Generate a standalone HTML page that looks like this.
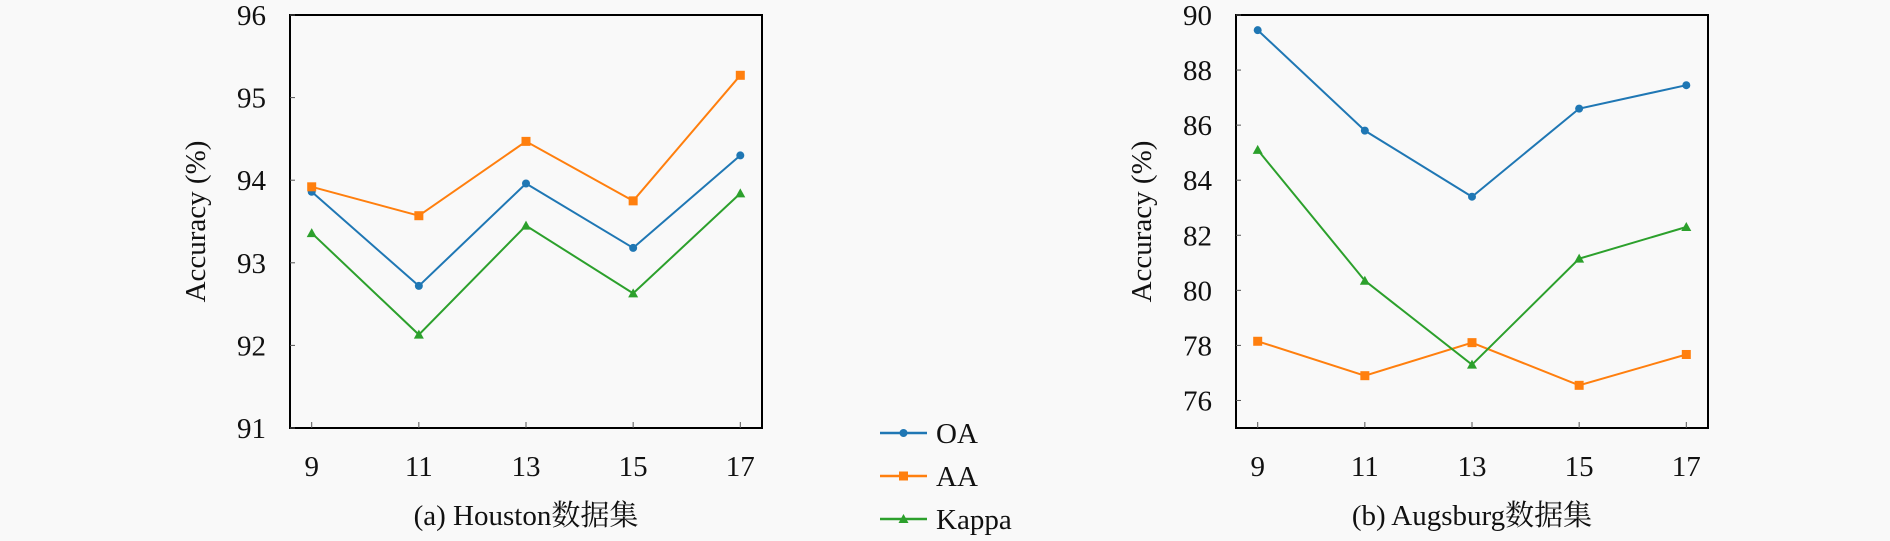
<!DOCTYPE html>
<html><head><meta charset="utf-8"><style>
html,body{margin:0;padding:0;background:#f9f9f9;}
svg{display:block;font-family:"Liberation Serif","Noto Serif CJK SC",serif;}
</style></head><body>
<svg id="c" width="1890" height="541" viewBox="0 0 1890 541"></svg>
<script>
const xCats=[9,11,13,15,17];
const leftOA=[93.86,92.72,93.96,93.18,94.30];
const leftAA=[93.92,93.57,94.47,93.75,95.27];
const leftKappa=[93.36,92.13,93.45,92.63,93.84];
const leftTicks=[91,92,93,94,95,96];
const rightOA=[89.45,85.8,83.4,86.6,87.45];
const rightAA=[78.15,76.9,78.1,76.55,77.67];
const rightKappa=[85.1,80.35,77.3,81.15,82.3];
const rightTicks=[76,78,80,82,84,86,88,90];
const seriesNames=["OA","AA","Kappa"];
const colors=["#1f77b4","#ff7f0e","#2ca02c"];
const NS="http://www.w3.org/2000/svg";
const svg=document.getElementById('c');
function mk(tag,attrs,parent){const e=document.createElementNS(NS,tag);for(const k in attrs)e.setAttribute(k,attrs[k]);(parent||svg).appendChild(e);return e;}
function marker(g,type,x,y,c){
  let m;
  if(type===0){m=mk('circle',{cx:x,cy:y,r:4,fill:c},g);}
  else if(type===1){m=mk('rect',{x:x-4.5,y:y-4.5,width:9,height:9,fill:c},g);}
  else{m=mk('polygon',{points:`${x},${y-5} ${x-5},${y+4} ${x+5},${y+4}`,fill:c},g);}
  
  
}
function chart(id,L,R,T,B,ymin,ymax,ticks,series,caption,capX){
  const g=mk('g',{});
  
  
  const xs=i=>L+21.7+i*(R-L-43.4)/(xCats.length-1);
  const ys=v=>B-(v-ymin)/(ymax-ymin)*(B-T);
  const frame=mk('rect',{x:L,y:T,width:R-L,height:B-T,fill:'none',stroke:'#000','stroke-width':2},g);
  
  
  ticks.forEach(t=>{
    const y=ys(t);
    mk('line',{x1:L,x2:L+5,y1:y,y2:y,stroke:'#555','stroke-width':1},g);
    const tx=mk('text',{x:L-24,y:y+10,'text-anchor':'end','font-size':29,fill:'#111'},g);
    tx.textContent=t;
    
    
  });
  xCats.forEach((c,i)=>{
    const x=xs(i);
    mk('line',{x1:x,x2:x,y1:B,y2:B-6,stroke:'#555','stroke-width':1},g);
    const tx=mk('text',{x:x,y:B+48,'text-anchor':'middle','font-size':29,fill:'#111'},g);
    tx.textContent=c;
    
    
  });
  const yt=mk('text',{x:0,y:0,'text-anchor':'middle','font-size':29,fill:'#111',transform:`translate(${L-85},${(T+B)/2}) rotate(-90)`},g);
  yt.textContent='Accuracy (%)';
  
  
  series.forEach((s,k)=>{
    const pl=mk('polyline',{points:s.map((v,i)=>xs(i)+','+ys(v)).join(' '),fill:'none',stroke:colors[k],'stroke-width':2},g);
    
    
    s.forEach((v,i)=>marker(g,k,xs(i),ys(v),colors[k]));
  });
  const cap=mk('text',{x:capX,y:525,'text-anchor':'middle','font-size':29,fill:'#111'},g);
  cap.textContent=caption;
  
  
}
chart('houston-chart',290,762,15,428,91,96,leftTicks,[leftOA,leftAA,leftKappa],'(a) Houston数据集',526);
chart('augsburg-chart',1236,1708,15,428,75,90,rightTicks,[rightOA,rightAA,rightKappa],'(b) Augsburg数据集',1472);
const lg=mk('g',{});


seriesNames.forEach((n,k)=>{
  const y=433+k*43;
  const e=mk('g',{},lg);
  
  
  mk('line',{x1:880,x2:927,y1:y,y2:y,stroke:colors[k],'stroke-width':2.5},e);
  marker(e,k,903.5,y,colors[k]);
  const t=mk('text',{x:936,y:y+10,'font-size':29,fill:'#111'},e);
  t.textContent=n;
});
</script>
</body></html>
